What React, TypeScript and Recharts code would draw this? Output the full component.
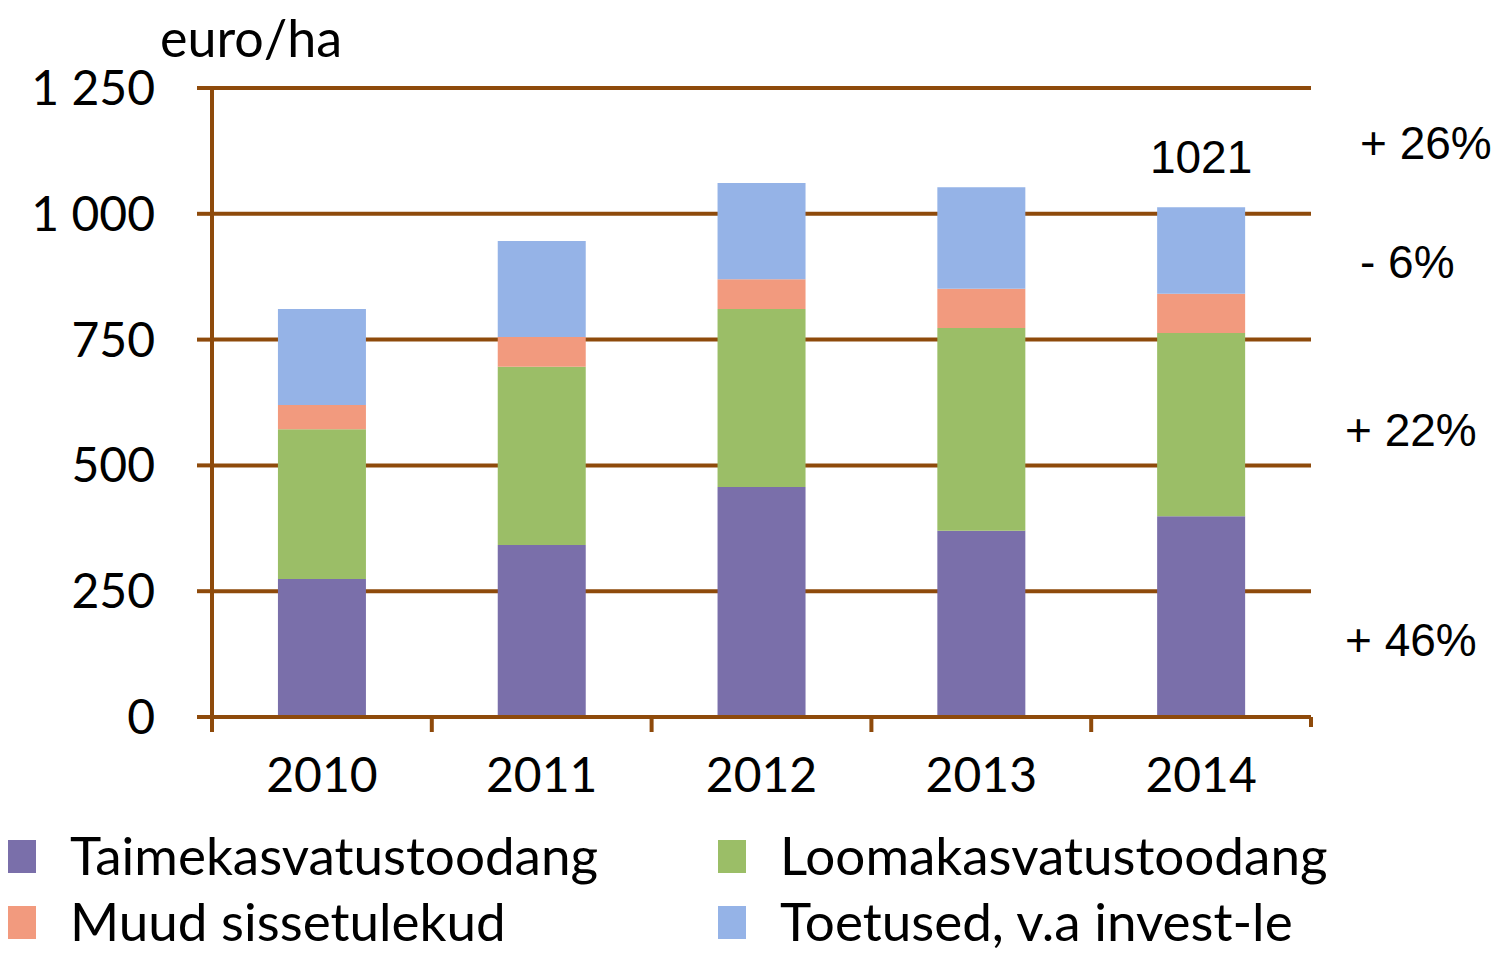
import React from "react";
import { BarChart, Bar, XAxis, YAxis, CartesianGrid, LabelList } from "recharts";

const years = ["2010", "2011", "2012", "2013", "2014"];
const taime = [274, 342, 457, 370, 399];
const looma = [298, 354, 354, 403, 364];
const muud = [48, 59, 59, 78, 78];
const toetused = [191, 191, 191, 202, 172];
const totalLabels = ["", "", "", "", "1021"];
const yTicks = [0, 250, 500, 750, 1000, 1250];
const seriesNames = ["Taimekasvatustoodang", "Loomakasvatustoodang", "Muud sissetulekud", "Toetused, v.a invest-le"];
const colors = ["#7A6FAA", "#9BBE67", "#F29A7E", "#95B3E7"];
const changes = ["+ 26%", "- 6%", "+ 22%", "+ 46%"];

const BROWN = "#8E4A0B";

const data = years.map((y, i) => ({
  year: y,
  taime: taime[i],
  looma: looma[i],
  muud: muud[i],
  toetused: toetused[i],
  label: totalLabels[i],
}));

const fmt = (v: number) => (v >= 1000 ? `${Math.floor(v / 1000)} ${String(v % 1000).padStart(3, "0")}` : String(v));

const YearTick = (props: any) => {
  const { x, y, payload, index, visibleTicksCount } = props;
  const half = payload && typeof payload.offset === "number" ? payload.offset : 110;
  const axisY = y - 41;
  const isLast = index === (visibleTicksCount ?? years.length) - 1;
  return (
    <g>
      <line x1={x - half} x2={x - half} y1={axisY} y2={axisY + 15} stroke={BROWN} strokeWidth={4} />
      {isLast && <line x1={x + half} x2={x + half} y1={axisY} y2={axisY + 10} stroke={BROWN} strokeWidth={4} />}
      <text x={x} y={y} dy="0.71em" textAnchor="middle" fill="#000" fontSize={48} fontFamily="Lato">
        {payload.value}
      </text>
    </g>
  );
};

export default function App() {
  return (
    <div style={{ position: "absolute", left: 0, top: 0, width: 1500, height: 953, background: "#fff" }}>
      <BarChart
        width={1500}
        height={953}
        data={data}
        margin={{ top: 88, right: 189, bottom: 136, left: 0 }}
        barCategoryGap="30%"
      >
        <CartesianGrid vertical={false} stroke={BROWN} strokeWidth={4} />
        <XAxis
          dataKey="year"
          height={100}
          axisLine={{ stroke: BROWN, strokeWidth: 4 }}
          tickLine={false}
          tickSize={0}
          tickMargin={41}
          tick={<YearTick />}
        />
        <YAxis
          width={212}
          domain={[0, 1250]}
          ticks={yTicks}
          tickFormatter={fmt}
          axisLine={{ stroke: BROWN, strokeWidth: 4 }}
          tickLine={{ stroke: BROWN, strokeWidth: 4 }}
          tickSize={15}
          tickMargin={42}
          tick={{ fill: "#000", fontSize: 48, fontFamily: "Lato" }}
        />
        <YAxis
          yAxisId="right"
          orientation="right"
          width={0}
          domain={[0, 1250]}
          ticks={yTicks}
          tick={false}
          tickLine={false}
          axisLine={{ stroke: BROWN, strokeWidth: 4 }}
        />
        <Bar dataKey="taime" stackId="a" fill={colors[0]} isAnimationActive={false} />
        <Bar dataKey="looma" stackId="a" fill={colors[1]} isAnimationActive={false} />
        <Bar dataKey="muud" stackId="a" fill={colors[2]} isAnimationActive={false} />
        <Bar dataKey="toetused" stackId="a" fill={colors[3]} isAnimationActive={false}>
          <LabelList
            dataKey="label"
            position="top"
            offset={34}
            style={{ fill: "#000", fontSize: 46, fontFamily: "Liberation Sans, Arial" }}
          />
        </Bar>
      </BarChart>
      <div style={{ position: "absolute", left: 160, top: 6, fontFamily: "Lato", fontSize: 52, lineHeight: "62px", color: "#000" }}>
        euro/ha
      </div>
      {changes.map((c, i) => {
        const pos = [
          { left: 1360, top: 116 },
          { left: 1360, top: 235 },
          { left: 1345, top: 403 },
          { left: 1345, top: 613 },
        ][i];
        return (
          <div
            key={c}
            style={{ position: "absolute", ...pos, fontFamily: "Liberation Sans, Arial", fontSize: 46, lineHeight: "54px", color: "#000", whiteSpace: "nowrap" }}
          >
            {c}
          </div>
        );
      })}
      {seriesNames.map((n, i) => {
        const left = i % 2 === 0 ? 8 : 718;
        const top = i < 2 ? 823 : 889;
        return (
          <div key={n} style={{ position: "absolute", left, top, display: "flex", alignItems: "center", whiteSpace: "nowrap" }}>
            <div style={{ width: 28, height: 33, background: colors[i], marginRight: 34, marginTop: 4 }} />
            <span style={{ fontFamily: "Lato", fontSize: 53, lineHeight: "normal", color: "#000" }}>{n}</span>
          </div>
        );
      })}
    </div>
  );
}
